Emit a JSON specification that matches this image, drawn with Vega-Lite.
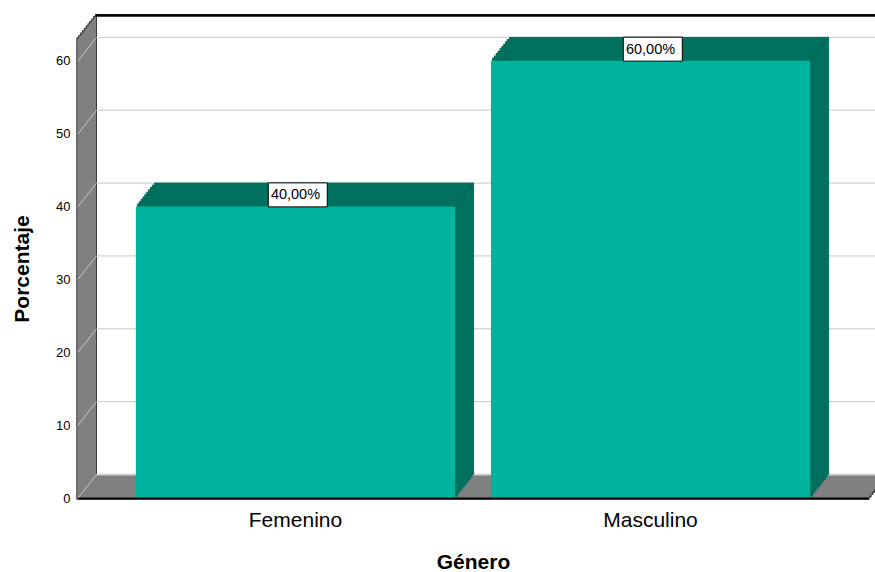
{
  "$schema": "https://vega.github.io/schema/vega-lite/v6.json",
  "width": 790,
  "height": 459,
  "autosize": "none",
  "padding": {"left": 78, "top": 39, "right": 7, "bottom": 74},
  "background": "white",
  "config": {"view": {"stroke": null}, "font": "Liberation Sans"},
  "data": {"values": [
    {"Genero": "Femenino", "Porcentaje": 40},
    {"Genero": "Masculino", "Porcentaje": 60}
  ]},
  "encoding": {
    "x": {"field": "Genero", "type": "nominal", "sort": null,
      "scale": {"paddingInner": 0.101, "paddingOuter": 0.163},
      "axis": {"title": "Género", "labelAngle": 0, "ticks": false, "domain": true, "domainColor": "#000000", "domainWidth": 2,
        "labelFontSize": 21, "labelColor": "#000000", "labelPadding": 11, "titleFontSize": 21, "titleFontWeight": "bold", "titleColor": "#000000", "titlePadding": 21, "zindex": 1}},
    "y": {"field": "Porcentaje", "type": "quantitative",
      "scale": {"domain": [0, 63], "nice": false},
      "axis": {"title": "Porcentaje", "values": [0, 10, 20, 30, 40, 50, 60], "ticks": false, "grid": false, "domain": false,
        "labelFontSize": 13, "labelColor": "#000000", "labelPadding": 8, "titleFontSize": 21, "titleFontWeight": "bold", "titleColor": "#000000", "titlePadding": 23, "zindex": 1}}
  },
  "layer": [
    {"mark": {"type": "rect", "fill": "#3a3a3a", "stroke": "#3a3a3a", "strokeWidth": 3, "xOffset": 0, "x2Offset": 0, "yOffset": 0, "y2Offset": 0}, "encoding": {"x": {"value": 0}, "x2": {"value": "width"}, "y": {"datum": 0}, "y2": {"datum": 63}}},
    {"mark": {"type": "rect", "fill": "#3a3a3a", "stroke": "#3a3a3a", "strokeWidth": 3, "xOffset": 1.85, "x2Offset": 1.85, "yOffset": -2.35, "y2Offset": -2.35}, "encoding": {"x": {"value": 0}, "x2": {"value": "width"}, "y": {"datum": 0}, "y2": {"datum": 63}}},
    {"mark": {"type": "rect", "fill": "#3a3a3a", "stroke": "#3a3a3a", "strokeWidth": 3, "xOffset": 3.7, "x2Offset": 3.7, "yOffset": -4.7, "y2Offset": -4.7}, "encoding": {"x": {"value": 0}, "x2": {"value": "width"}, "y": {"datum": 0}, "y2": {"datum": 63}}},
    {"mark": {"type": "rect", "fill": "#3a3a3a", "stroke": "#3a3a3a", "strokeWidth": 3, "xOffset": 5.55, "x2Offset": 5.55, "yOffset": -7.05, "y2Offset": -7.05}, "encoding": {"x": {"value": 0}, "x2": {"value": "width"}, "y": {"datum": 0}, "y2": {"datum": 63}}},
    {"mark": {"type": "rect", "fill": "#3a3a3a", "stroke": "#3a3a3a", "strokeWidth": 3, "xOffset": 7.4, "x2Offset": 7.4, "yOffset": -9.4, "y2Offset": -9.4}, "encoding": {"x": {"value": 0}, "x2": {"value": "width"}, "y": {"datum": 0}, "y2": {"datum": 63}}},
    {"mark": {"type": "rect", "fill": "#3a3a3a", "stroke": "#3a3a3a", "strokeWidth": 3, "xOffset": 9.25, "x2Offset": 9.25, "yOffset": -11.75, "y2Offset": -11.75}, "encoding": {"x": {"value": 0}, "x2": {"value": "width"}, "y": {"datum": 0}, "y2": {"datum": 63}}},
    {"mark": {"type": "rect", "fill": "#3a3a3a", "stroke": "#3a3a3a", "strokeWidth": 3, "xOffset": 11.1, "x2Offset": 11.1, "yOffset": -14.1, "y2Offset": -14.1}, "encoding": {"x": {"value": 0}, "x2": {"value": "width"}, "y": {"datum": 0}, "y2": {"datum": 63}}},
    {"mark": {"type": "rect", "fill": "#3a3a3a", "stroke": "#3a3a3a", "strokeWidth": 3, "xOffset": 12.95, "x2Offset": 12.95, "yOffset": -16.45, "y2Offset": -16.45}, "encoding": {"x": {"value": 0}, "x2": {"value": "width"}, "y": {"datum": 0}, "y2": {"datum": 63}}},
    {"mark": {"type": "rect", "fill": "#3a3a3a", "stroke": "#3a3a3a", "strokeWidth": 3, "xOffset": 14.8, "x2Offset": 14.8, "yOffset": -18.8, "y2Offset": -18.8}, "encoding": {"x": {"value": 0}, "x2": {"value": "width"}, "y": {"datum": 0}, "y2": {"datum": 63}}},
    {"mark": {"type": "rect", "fill": "#3a3a3a", "stroke": "#3a3a3a", "strokeWidth": 3, "xOffset": 16.65, "x2Offset": 16.65, "yOffset": -21.15, "y2Offset": -21.15}, "encoding": {"x": {"value": 0}, "x2": {"value": "width"}, "y": {"datum": 0}, "y2": {"datum": 63}}},
    {"mark": {"type": "rect", "fill": "#3a3a3a", "stroke": "#3a3a3a", "strokeWidth": 3, "xOffset": 18.5, "x2Offset": 18.5, "yOffset": -23.5, "y2Offset": -23.5}, "encoding": {"x": {"value": 0}, "x2": {"value": "width"}, "y": {"datum": 0}, "y2": {"datum": 63}}},

    {"mark": {"type": "rect", "fill": "#808080", "stroke": "#808080", "strokeWidth": 1, "xOffset": 0, "x2Offset": 0, "yOffset": 0, "y2Offset": 0}, "encoding": {"x": {"value": 0}, "x2": {"value": "width"}, "y": {"datum": 0}, "y2": {"datum": 63}}},
    {"mark": {"type": "rect", "fill": "#808080", "stroke": "#808080", "strokeWidth": 1, "xOffset": 1.85, "x2Offset": 1.85, "yOffset": -2.35, "y2Offset": -2.35}, "encoding": {"x": {"value": 0}, "x2": {"value": "width"}, "y": {"datum": 0}, "y2": {"datum": 63}}},
    {"mark": {"type": "rect", "fill": "#808080", "stroke": "#808080", "strokeWidth": 1, "xOffset": 3.7, "x2Offset": 3.7, "yOffset": -4.7, "y2Offset": -4.7}, "encoding": {"x": {"value": 0}, "x2": {"value": "width"}, "y": {"datum": 0}, "y2": {"datum": 63}}},
    {"mark": {"type": "rect", "fill": "#808080", "stroke": "#808080", "strokeWidth": 1, "xOffset": 5.55, "x2Offset": 5.55, "yOffset": -7.05, "y2Offset": -7.05}, "encoding": {"x": {"value": 0}, "x2": {"value": "width"}, "y": {"datum": 0}, "y2": {"datum": 63}}},
    {"mark": {"type": "rect", "fill": "#808080", "stroke": "#808080", "strokeWidth": 1, "xOffset": 7.4, "x2Offset": 7.4, "yOffset": -9.4, "y2Offset": -9.4}, "encoding": {"x": {"value": 0}, "x2": {"value": "width"}, "y": {"datum": 0}, "y2": {"datum": 63}}},
    {"mark": {"type": "rect", "fill": "#808080", "stroke": "#808080", "strokeWidth": 1, "xOffset": 9.25, "x2Offset": 9.25, "yOffset": -11.75, "y2Offset": -11.75}, "encoding": {"x": {"value": 0}, "x2": {"value": "width"}, "y": {"datum": 0}, "y2": {"datum": 63}}},
    {"mark": {"type": "rect", "fill": "#808080", "stroke": "#808080", "strokeWidth": 1, "xOffset": 11.1, "x2Offset": 11.1, "yOffset": -14.1, "y2Offset": -14.1}, "encoding": {"x": {"value": 0}, "x2": {"value": "width"}, "y": {"datum": 0}, "y2": {"datum": 63}}},
    {"mark": {"type": "rect", "fill": "#808080", "stroke": "#808080", "strokeWidth": 1, "xOffset": 12.95, "x2Offset": 12.95, "yOffset": -16.45, "y2Offset": -16.45}, "encoding": {"x": {"value": 0}, "x2": {"value": "width"}, "y": {"datum": 0}, "y2": {"datum": 63}}},
    {"mark": {"type": "rect", "fill": "#808080", "stroke": "#808080", "strokeWidth": 1, "xOffset": 14.8, "x2Offset": 14.8, "yOffset": -18.8, "y2Offset": -18.8}, "encoding": {"x": {"value": 0}, "x2": {"value": "width"}, "y": {"datum": 0}, "y2": {"datum": 63}}},
    {"mark": {"type": "rect", "fill": "#808080", "stroke": "#808080", "strokeWidth": 1, "xOffset": 16.65, "x2Offset": 16.65, "yOffset": -21.15, "y2Offset": -21.15}, "encoding": {"x": {"value": 0}, "x2": {"value": "width"}, "y": {"datum": 0}, "y2": {"datum": 63}}},

    {"mark": {"type": "rect", "fill": "#ffffff", "stroke": "#3a3a3a", "strokeWidth": 1, "xOffset": 18.5, "x2Offset": 18.5, "yOffset": -23.5, "y2Offset": -23.5}, "encoding": {"x": {"value": 0}, "x2": {"value": "width"}, "y": {"datum": 0}, "y2": {"datum": 63}}},
    {"mark": {"type": "rule", "color": "#d8d8d8", "strokeWidth": 1.5, "xOffset": 18.5, "x2Offset": 18.5, "yOffset": -23.5}, "encoding": {"x": {"value": 0}, "x2": {"value": "width"}, "y": {"datum": 0}}},
    {"mark": {"type": "rule", "color": "#000000", "strokeWidth": 2, "xOffset": 18.5, "x2Offset": 18.5, "yOffset": -23.5}, "encoding": {"x": {"value": 0}, "x2": {"value": "width"}, "y": {"datum": 63}}},

    {"data": {"values": [{"Porcentaje": 10}, {"Porcentaje": 20}, {"Porcentaje": 30}, {"Porcentaje": 40}, {"Porcentaje": 50}, {"Porcentaje": 60}]},
     "mark": {"type": "rule", "color": "#c8c8c8", "strokeWidth": 1, "xOffset": 18.5, "x2Offset": 18.5, "yOffset": -23.5},
     "encoding": {"x": {"value": 0}, "x2": {"value": "width"}}},
    {"data": {"values": [{"Porcentaje": 0}, {"Porcentaje": 10}, {"Porcentaje": 20}, {"Porcentaje": 30}, {"Porcentaje": 40}, {"Porcentaje": 50}, {"Porcentaje": 60}]},
     "mark": {"type": "point", "shape": "M0,0L18.5,-23.5", "size": 4, "filled": false, "stroke": "#c8c8c8", "strokeWidth": 1, "opacity": 1},
     "encoding": {"x": {"value": 0}}},

    {"mark": {"type": "bar", "color": "#00705f", "stroke": "#00705f", "strokeWidth": 1.5, "xOffset": 1.85, "x2Offset": 1.85, "yOffset": -2.35, "y2Offset": -2.35}},
    {"mark": {"type": "bar", "color": "#00705f", "stroke": "#00705f", "strokeWidth": 1.5, "xOffset": 3.7, "x2Offset": 3.7, "yOffset": -4.7, "y2Offset": -4.7}},
    {"mark": {"type": "bar", "color": "#00705f", "stroke": "#00705f", "strokeWidth": 1.5, "xOffset": 5.55, "x2Offset": 5.55, "yOffset": -7.05, "y2Offset": -7.05}},
    {"mark": {"type": "bar", "color": "#00705f", "stroke": "#00705f", "strokeWidth": 1.5, "xOffset": 7.4, "x2Offset": 7.4, "yOffset": -9.4, "y2Offset": -9.4}},
    {"mark": {"type": "bar", "color": "#00705f", "stroke": "#00705f", "strokeWidth": 1.5, "xOffset": 9.25, "x2Offset": 9.25, "yOffset": -11.75, "y2Offset": -11.75}},
    {"mark": {"type": "bar", "color": "#00705f", "stroke": "#00705f", "strokeWidth": 1.5, "xOffset": 11.1, "x2Offset": 11.1, "yOffset": -14.1, "y2Offset": -14.1}},
    {"mark": {"type": "bar", "color": "#00705f", "stroke": "#00705f", "strokeWidth": 1.5, "xOffset": 12.95, "x2Offset": 12.95, "yOffset": -16.45, "y2Offset": -16.45}},
    {"mark": {"type": "bar", "color": "#00705f", "stroke": "#00705f", "strokeWidth": 1.5, "xOffset": 14.8, "x2Offset": 14.8, "yOffset": -18.8, "y2Offset": -18.8}},
    {"mark": {"type": "bar", "color": "#00705f", "stroke": "#00705f", "strokeWidth": 1.5, "xOffset": 16.65, "x2Offset": 16.65, "yOffset": -21.15, "y2Offset": -21.15}},
    {"mark": {"type": "bar", "color": "#00705f", "stroke": "#00705f", "strokeWidth": 1, "xOffset": 18.5, "x2Offset": 18.5, "yOffset": -23.5, "y2Offset": -23.5}},

    {"mark": {"type": "bar", "color": "#00b4a0"}},
    {"mark": {"type": "point", "shape": "M0,0L18.5,-23.5", "size": 4, "filled": false, "stroke": "#005d4f", "strokeWidth": 1, "opacity": 1},
     "encoding": {"x": {"field": "Genero", "type": "nominal", "sort": null, "bandPosition": 1}}},

    {"mark": {"type": "point", "shape": "M-1,-0.407H1V0.407H-1Z", "size": 3481, "filled": true, "fill": "#ffffff", "stroke": "#000000", "strokeWidth": 1, "opacity": 1, "xOffset": 2.3, "yOffset": -11.7}},
    {"transform": [{"calculate": "replace(format(datum.Porcentaje, '.2f'), '.', ',') + '%'", "as": "Etiqueta"}],
     "mark": {"type": "text", "fontSize": 14.5, "color": "#000000", "align": "center", "baseline": "middle", "xOffset": 0, "yOffset": -11.2},
     "encoding": {"text": {"field": "Etiqueta", "type": "nominal"}}}
  ]
}
